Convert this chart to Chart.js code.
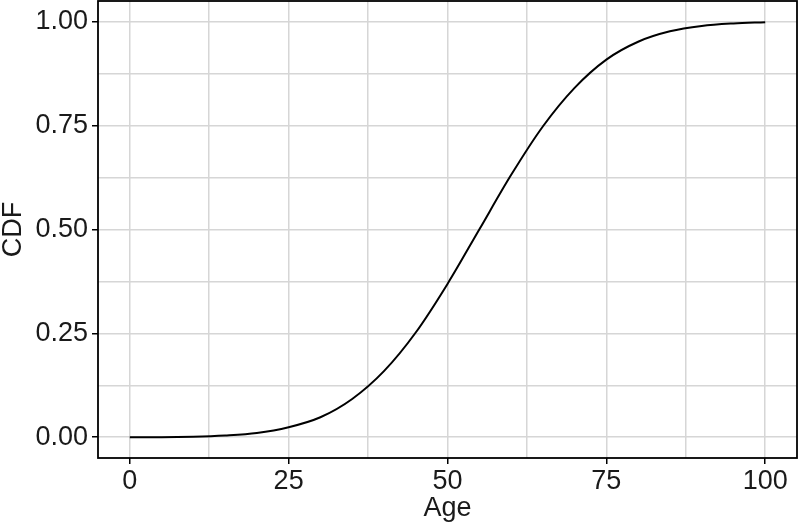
<!DOCTYPE html>
<html>
<head>
<meta charset="utf-8">
<script src="https://cdn.jsdelivr.net/npm/chart.js@4"></script>
<style>
  body { margin: 0; background: #fff; }
  canvas { display: block; }
</style>
</head>
<body>
<canvas id="cdfChart" width="800" height="525"></canvas>
<script>
// Werte
const ages = [0, 5, 10, 15, 20, 25, 30, 35, 40, 45, 50, 55, 60, 65, 70, 75, 80, 85, 90, 95, 100];
const cdfValues = [0.000, 0.000, 0.001, 0.004, 0.010, 0.024, 0.048, 0.092, 0.159, 0.252, 0.369,
                   0.500, 0.631, 0.748, 0.841, 0.909, 0.952, 0.977, 0.990, 0.996, 0.999];
const xTicks = [0, 25, 50, 75, 100];
const yTicks = [0, 0.25, 0.5, 0.75, 1];

const gridGrey = '#d6d6d6';
const textColor = '#1a1a1a';
const fontFamily = 'Liberation Sans, Arial, sans-serif';

// major + minor ticks (minor = Mitte zwischen zwei major)
const withMinor = (major) => {
    const all = [];
    major.forEach((v, i) => {
        all.push({ value: v, major: true });
        if (i < major.length - 1) all.push({ value: (v + major[i + 1]) / 2, major: false });
    });
    return all;
};

const panelBorder = {
    id: 'panelBorder',
    afterDraw(chart) {
        const { ctx, chartArea } = chart;
        ctx.save();
        ctx.strokeStyle = '#000';
        ctx.lineWidth = 1.8;
        ctx.strokeRect(chartArea.left, chartArea.top, chartArea.right - chartArea.left, chartArea.bottom - chartArea.top);
        ctx.restore();
    }
};

const ctx = document.getElementById('cdfChart').getContext('2d');
new Chart(ctx, {
    type: 'line',
    data: {
        datasets: [{
            data: ages.map((a, i) => ({ x: a, y: cdfValues[i] })),
            borderColor: '#000',
            borderWidth: 2,
            pointRadius: 0,
            fill: false,
            cubicInterpolationMode: 'monotone'
        }]
    },
    options: {
        responsive: false,
        animation: false,
        layout: { padding: { top: 1, right: 3, left: 0, bottom: 0 } },
        plugins: { legend: { display: false }, tooltip: { enabled: false } },
        scales: {
            x: {
                type: 'linear',
                min: -5,
                max: 105,
                afterBuildTicks: (scale) => { scale.ticks = withMinor(xTicks); },
                afterFit: (scale) => {
                    scale.height = 67;
                    scale.paddingLeft = 0;
                    scale.paddingRight = 0;
                },
                grid: {
                    color: gridGrey,
                    lineWidth: 1.5,
                    tickLength: 6,
                    tickColor: (c) => (c.tick && c.tick.major ? '#000' : 'rgba(0,0,0,0)'),
                    tickWidth: 1.5
                },
                border: { display: false },
                ticks: {
                    autoSkip: false,
                    maxRotation: 0,
                    padding: 1,
                    color: textColor,
                    font: { family: fontFamily, size: 27 },
                    callback: function (value, index, ticks) {
                        return ticks[index].major ? String(value) : '';
                    }
                },
                title: {
                    display: true,
                    text: 'Age',
                    color: textColor,
                    padding: 0,
                    font: { family: fontFamily, size: 27, lineHeight: 1.2 }
                }
            },
            y: {
                min: -0.05,
                max: 1.05,
                afterBuildTicks: (scale) => { scale.ticks = withMinor(yTicks); },
                afterFit: (scale) => {
                    scale.width = 98;
                    scale.paddingTop = 0;
                    scale.paddingBottom = 0;
                },
                grid: {
                    color: gridGrey,
                    lineWidth: 1.5,
                    tickLength: 6,
                    tickColor: (c) => (c.tick && c.tick.major ? '#000' : 'rgba(0,0,0,0)'),
                    tickWidth: 1.5
                },
                border: { display: false },
                ticks: {
                    autoSkip: false,
                    padding: 4,
                    color: textColor,
                    font: { family: fontFamily, size: 27 },
                    callback: function (value, index, ticks) {
                        return ticks[index].major ? value.toFixed(2) : '';
                    }
                },
                title: {
                    display: true,
                    text: 'CDF',
                    color: textColor,
                    padding: 0,
                    font: { family: fontFamily, size: 27, lineHeight: 1 }
                }
            }
        }
    },
    plugins: [panelBorder]
});
</script>
</body>
</html>
